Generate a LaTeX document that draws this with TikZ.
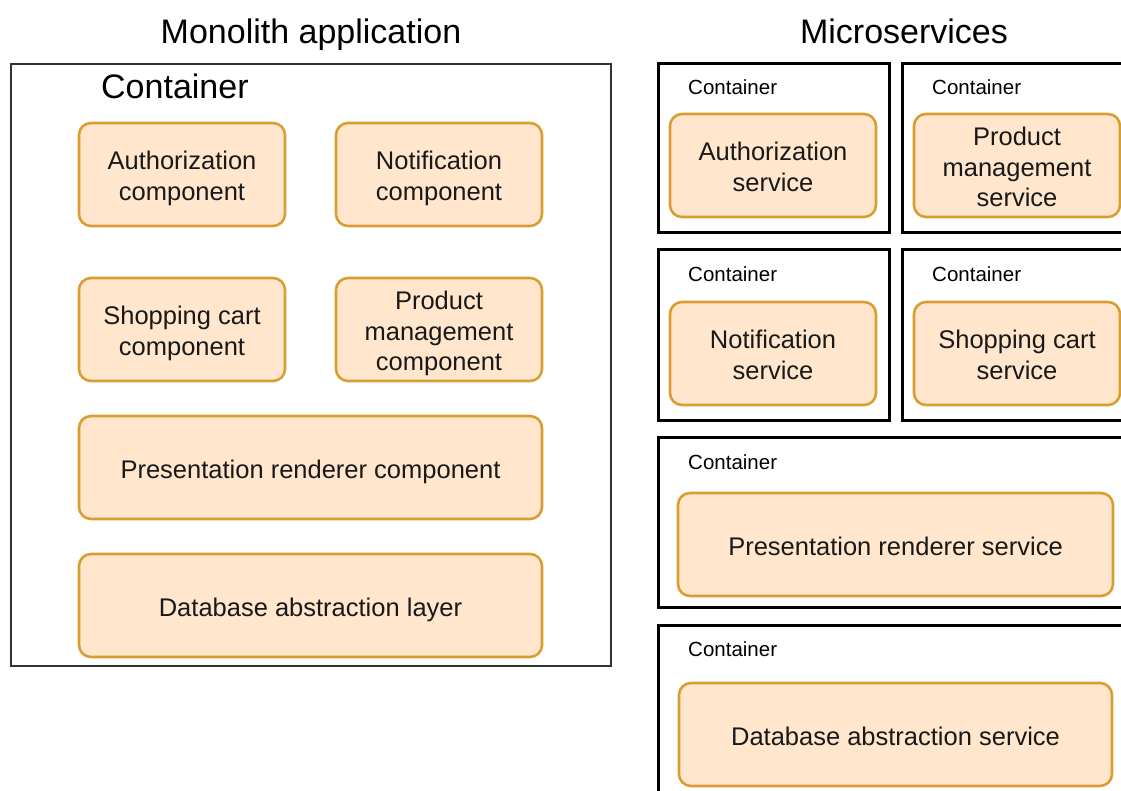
\documentclass[tikz,border=0pt]{standalone}
\usepackage{fontspec}
\setmainfont{Liberation Sans}
\definecolor{compfill}{HTML}{FFE6CC}
\definecolor{compline}{HTML}{D99E32}
\definecolor{framegray}{HTML}{333333}
% centred block of lines, lowered a little inside its box
\newcommand{\boxtext}[1]{\raisebox{-4.5pt}[\height][\depth]{\begin{tabular}{@{}c@{}}#1\end{tabular}}}
\begin{document}
\begin{tikzpicture}[x=1pt,y=-1pt,
  comp/.style={draw=compline, fill=compfill, line width=2.6pt, rounded corners=12pt,
    align=center, inner sep=0pt, text=black!90,
    font=\fontsize{25.5}{30.6}\selectfont},
  svcbox/.style={draw=black, line width=3pt},
  monobox/.style={draw=framegray, line width=1.4pt},
  title/.style={font=\fontsize{34}{40}\selectfont, inner sep=0pt, anchor=base},
  smalllabel/.style={font=\fontsize{20.5}{24}\selectfont, anchor=base west, inner sep=0pt}
]
\clip (0,0) rectangle (1121,791);
\fill[white] (0,0) rectangle (1121,791);

% ---- monolith side ----
\node[title] (montitle) at (311,44) {Monolith application};
\draw[monobox] (11,64) rectangle (611,666);
\node[title, anchor=base west] (monlabel) at (101,99) {Container};

\node[comp, minimum width=206pt, minimum height=103pt] (authc) at (182,174.5) {\boxtext{Authorization\\component}};
\node[comp, minimum width=206pt, minimum height=103pt] (notic) at (439,174.5) {\boxtext{Notification\\component}};
\node[comp, minimum width=206pt, minimum height=103pt] (cartc) at (182,329.5) {\boxtext{Shopping cart\\component}};
\node[comp, minimum width=206pt, minimum height=103pt] (prodc) at (439,329.5) {\boxtext{Product\\management\\component}};
\node[comp, minimum width=463pt, minimum height=103pt] (presc) at (310.5,467.5) {\boxtext{Presentation renderer component}};
\node[comp, minimum width=463pt, minimum height=103pt] (dbc) at (310.5,605.5) {\boxtext{Database abstraction layer}};

% ---- microservices side ----
\node[title] (mstitle) at (904,44) {Microservices};

\draw[svcbox] (658,64) rectangle (889,233);
\draw[svcbox] (902,64) rectangle (1135,233);
\draw[svcbox] (658,250) rectangle (889,420);
\draw[svcbox] (902,250) rectangle (1135,420);
\draw[svcbox] (658,437) rectangle (1135,607);
\draw[svcbox] (658,625) rectangle (1135,800);

\node[smalllabel] (lbl1) at (688,94.5) {Container};
\node[smalllabel] (lbl2) at (932,94.5) {Container};
\node[smalllabel] (lbl3) at (688,281.5) {Container};
\node[smalllabel] (lbl4) at (932,281.5) {Container};
\node[smalllabel] (lbl5) at (688,469.5) {Container};
\node[smalllabel] (lbl6) at (688,656.5) {Container};

\node[comp, minimum width=206pt, minimum height=103pt] (auths) at (773,165.5) {\boxtext{Authorization\\service}};
\node[comp, minimum width=206pt, minimum height=103pt] (prods) at (1017,165.5) {\boxtext{Product\\management\\service}};
\node[comp, minimum width=206pt, minimum height=103pt] (notis) at (773,353.5) {\boxtext{Notification\\service}};
\node[comp, minimum width=206pt, minimum height=103pt] (carts) at (1017,353.5) {\boxtext{Shopping cart\\service}};
\node[comp, minimum width=435pt, minimum height=103pt] (press) at (895.5,544.5) {\boxtext{Presentation renderer service}};
\node[comp, minimum width=433pt, minimum height=103pt] (dbs) at (895.5,734.5) {\boxtext{Database abstraction service}};
\end{tikzpicture}
\end{document}
